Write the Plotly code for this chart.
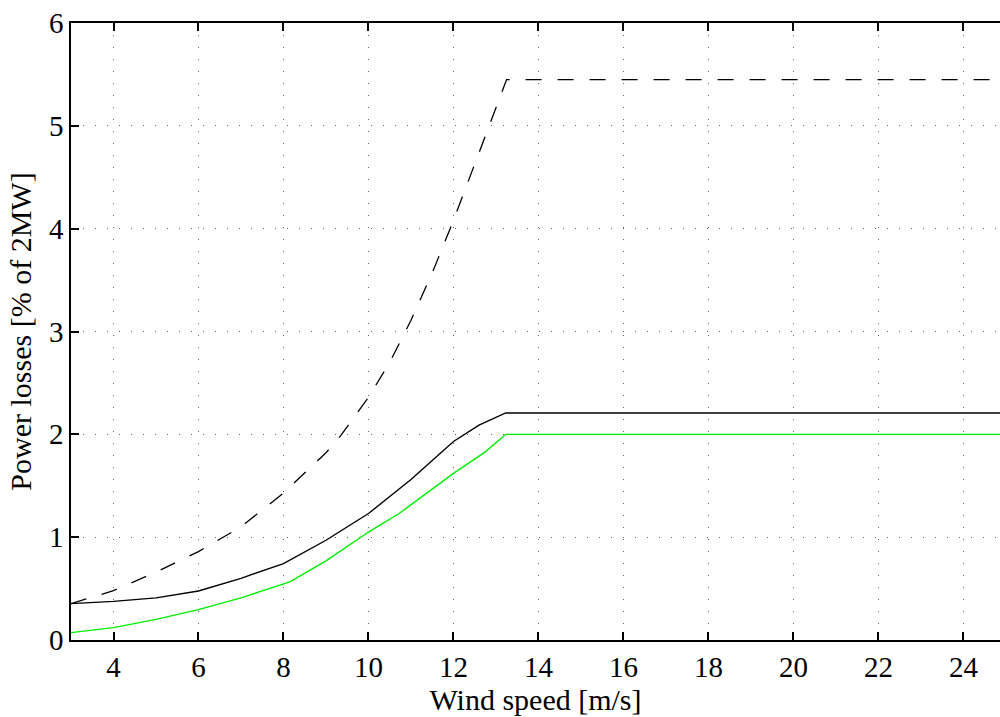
import plotly.graph_objects as go

# Wind speed [m/s] sample points
wind_dashed = [3, 4, 5, 6, 7, 8, 9, 9.35, 10, 10.5, 11, 11.5, 12, 12.5, 13, 13.25, 25]
loss_dashed = [0.354, 0.48, 0.66, 0.86, 1.10, 1.43, 1.82, 1.99, 2.36, 2.70, 3.11, 3.57, 4.08, 4.63, 5.18, 5.45, 5.45]

wind_black = [3, 4, 5, 6, 7, 8, 9, 10, 11, 12, 12.6, 13.23, 25]
loss_black = [0.354, 0.376, 0.41, 0.477, 0.60, 0.743, 0.97, 1.23, 1.56, 1.93, 2.09, 2.208, 2.208]

wind_green = [3, 4, 5, 6, 7, 8, 8.15, 9, 10, 10.72, 12, 12.75, 13.23, 25]
loss_green = [0.072, 0.12, 0.20, 0.296, 0.41, 0.54, 0.565, 0.77, 1.05, 1.23, 1.62, 1.83, 2.0, 2.0]

x_ticks = [4, 6, 8, 10, 12, 14, 16, 18, 20, 22, 24]
y_ticks = [0, 1, 2, 3, 4, 5, 6]

FONT = "Liberation Serif, Times New Roman, serif"

fig = go.Figure()
fig.add_trace(go.Scatter(x=wind_dashed, y=loss_dashed, mode="lines",
                         line=dict(color="black", width=1.3, dash="16px,16px"),
                         showlegend=False))
fig.add_trace(go.Scatter(x=wind_black, y=loss_black, mode="lines",
                         line=dict(color="black", width=1.4),
                         showlegend=False))
fig.add_trace(go.Scatter(x=wind_green, y=loss_green, mode="lines",
                         line=dict(color="#00ee00", width=1.4),
                         showlegend=False))

fig.update_layout(
    width=1000, height=717,
    margin=dict(l=71, r=0, t=23, b=77),
    paper_bgcolor="white", plot_bgcolor="white",
    font=dict(family=FONT, size=29, color="black"),
    xaxis=dict(
        range=[3, 24.86], tickvals=x_ticks, ticks="inside", ticklen=8,
        tickwidth=1.5, tickcolor="black", showline=True, linecolor="black",
        linewidth=1.5, mirror="ticks", zeroline=False,
        showgrid=True, gridcolor="#666", gridwidth=1, griddash="1px,11px",
        title=dict(text="Wind speed [m/s]", font=dict(size=30), standoff=2),
        tickfont=dict(size=29),
    ),
    yaxis=dict(
        range=[0, 6], tickvals=y_ticks, ticks="inside", ticklen=8,
        tickwidth=1.5, tickcolor="black", showline=True, linecolor="black",
        linewidth=1.5, mirror=False, zeroline=False,
        showgrid=True, gridcolor="#666", gridwidth=1, griddash="1px,11px",
        title=dict(text="Power losses [% of 2MW]", font=dict(size=30), standoff=8),
        tickfont=dict(size=29),
    ),
)

fig.write_html("out.html")
